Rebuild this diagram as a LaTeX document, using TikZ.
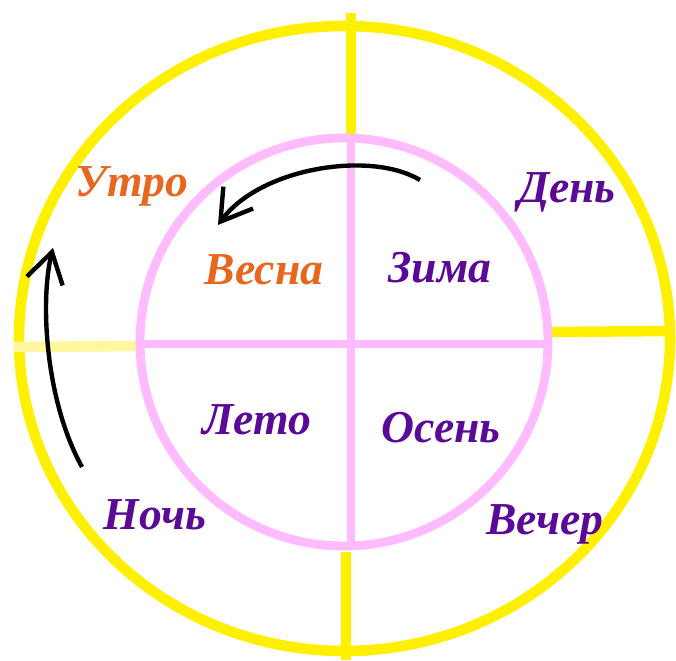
\documentclass[tikz,border=0pt]{standalone}
\usepackage{fontspec}
\setmainfont{Liberation Serif}
\usetikzlibrary{arrows.meta}

\definecolor{sunyellow}{RGB}{255,240,0}
\definecolor{paleyellow}{RGB}{255,246,160}
\definecolor{lightpink}{RGB}{255,187,255}
\definecolor{darkorange}{RGB}{232,102,30}
\definecolor{violet}{RGB}{90,10,150}

\begin{document}
\begin{tikzpicture}[x=0.02cm, y=-0.02cm, >={Straight Barb[length=17pt,width=21pt]},
    word/.style={font=\fontsize{26}{31}\selectfont\bfseries\itshape, anchor=base, inner sep=0pt},
    warm/.style={word, text=darkorange},
    cool/.style={word, text=violet}]
            \useasboundingbox (0,0) rectangle (676,661);

            % Vòng ngoài
            \draw[sunyellow, line width=6pt] (344.5,338.5) ellipse (325.5 and 312.5);
            \draw[sunyellow, line width=6pt] (351,13) -- (351,134);
            \draw[sunyellow, line width=6pt] (346,552) -- (346,660);
            \draw[sunyellow, line width=6pt] (550,332) -- (670,331);
            \draw[paleyellow, line width=6pt] (14,347) -- (138,346);

            % Vòng trong
            \draw[lightpink, line width=5pt] (344,342) circle (204);
            \draw[lightpink, line width=5pt] (351,138) -- (351,546);
            \draw[lightpink, line width=5pt] (141,344) -- (547,344);

            % Nhãn
            \node[warm] (utro) at (132,197) {Утро};
            \node[cool] (den) at (567,203) {День};
            \node[cool] (noch) at (155,530) {Ночь};
            \node[cool] (vecher) at (545,535) {Вечер};
            \node[warm] (vesna) at (264,285) {Весна};
            \node[cool] (zima) at (440,283) {Зима};
            \node[cool] (leto) at (257,435) {Лето};
            \node[cool] (osen) at (441,443) {Осень};

            % Mũi tên
            \coordinate (S1) at (420,180);
            \coordinate (E1) at (218,225);
            \coordinate (S2) at (82,467);
            \coordinate (E2) at (53,248);
            \draw[->, line width=2.5pt] (S1) .. controls (370,150) and (260,168) .. (E1);
            \draw[->, line width=2.5pt] (S2) .. controls (45,400) and (40,300) .. (E2);
        \end{tikzpicture}
\end{document}
